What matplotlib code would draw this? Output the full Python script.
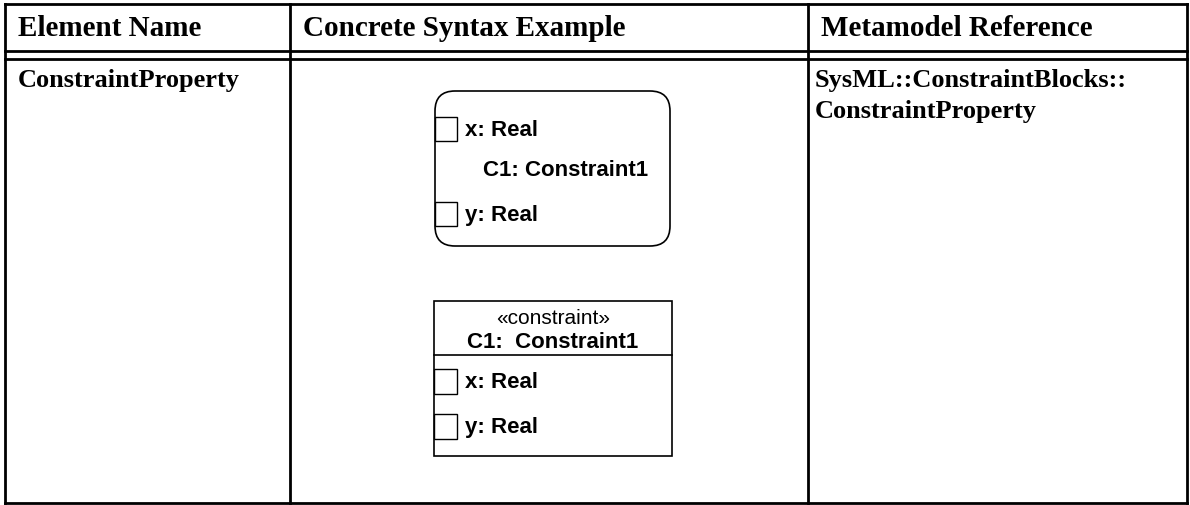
import matplotlib.pyplot as plt
from matplotlib.patches import FancyBboxPatch, Rectangle

# -------- table content --------
headers = ["Element Name", "Concrete Syntax Example", "Metamodel Reference"]
element_name = "ConstraintProperty"
reference_lines = ["SysML::ConstraintBlocks::", "ConstraintProperty"]

# -------- diagram content --------
part_name = "C1: Constraint1"
block_name = "C1:  Constraint1"
stereotype = "\u00abconstraint\u00bb"
ports = ["x: Real", "y: Real"]

# layout (pixels)
W, H = 1190, 506
col_x = [5, 290, 808, 1187]
top, hdr1, hdr2, bottom = 5, 52, 60, 504

serif = "Liberation Serif"
sans = "Liberation Sans"

fig = plt.figure(figsize=(W / 100, H / 100), dpi=100)
ax = fig.add_axes([0, 0, 1, 1])
ax.set_xlim(0, W)
ax.set_ylim(H, 0)
ax.axis("off")

# -------- table grid --------
lw_tab = 2.0
for y in [top, hdr1, hdr2, bottom]:
    ax.plot([col_x[0], col_x[-1]], [y, y], color="black", lw=lw_tab)
for x in col_x:
    ax.plot([x, x], [top, bottom], color="black", lw=lw_tab)

# header and row text
for i, h in enumerate(headers):
    ax.text(col_x[i] + 13, 36, h, fontsize=21, fontweight="bold",
            family=serif, va="baseline", ha="left")
ax.text(col_x[0] + 13, 87, element_name, fontsize=19, fontweight="bold",
        family=serif, va="baseline", ha="left")
for j, line in enumerate(reference_lines):
    ax.text(col_x[2] + 7, 87 + 31 * j, line, fontsize=19, fontweight="bold",
            family=serif, va="baseline", ha="left")

# -------- rounded constraint property --------
box1 = FancyBboxPatch((435, 92), 235, 155,
                      boxstyle="round,pad=0,rounding_size=20",
                      fc="white", ec="black", lw=1.2)
ax.add_patch(box1)
port_y1 = [118, 203]
for py, lab in zip(port_y1, ports):
    ax.add_patch(Rectangle((435, py), 22, 24, fc="white", ec="black", lw=1.0))
    ax.text(465, py + 12, lab, fontsize=16, fontweight="bold", family=sans,
            va="center", ha="left")
ax.text(483, 170, part_name, fontsize=16, fontweight="bold", family=sans,
        va="center", ha="left")

# -------- block style constraint property --------
box2 = Rectangle((434, 302), 238, 155, fc="white", ec="black", lw=1.2)
ax.add_patch(box2)
ax.plot([434, 672], [356, 356], color="black", lw=1.2)
ax.text(553, 318, stereotype, fontsize=15, family=sans, va="center", ha="center")
ax.text(553, 342, block_name, fontsize=16, fontweight="bold", family=sans,
        va="center", ha="center")
port_y2 = [370, 415]
for py, lab in zip(port_y2, ports):
    ax.add_patch(Rectangle((434, py), 23, 25, fc="white", ec="black", lw=1.0))
    ax.text(465, py + 13, lab, fontsize=16, fontweight="bold", family=sans,
            va="center", ha="left")

fig.savefig("out.png", dpi=100)
